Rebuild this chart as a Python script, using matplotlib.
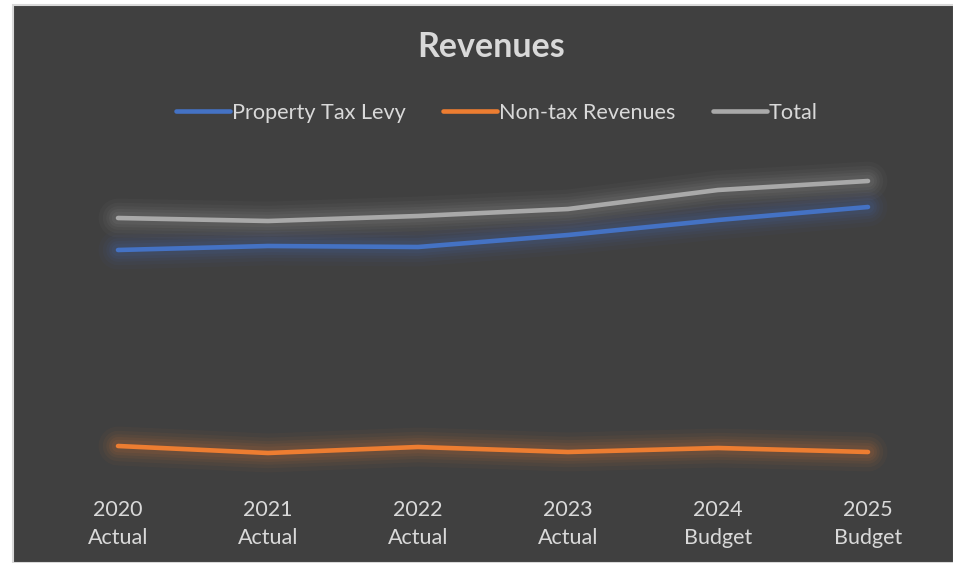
#! /usr/bin/env python3

import numpy as np
import matplotlib
matplotlib.use('Agg')
import matplotlib.pyplot as plt
from matplotlib.patches import Rectangle

# Data (millions)
years = ['2020\nActual', '2021\nActual', '2022\nActual', '2023\nActual', '2024\nBudget', '2025\nBudget']
property_tax = [22.8, 23.2, 23.1, 24.3, 25.8, 27.1]
non_tax = [3.2, 2.5, 3.1, 2.6, 3.0, 2.6]
total = [26.0, 25.7, 26.2, 26.9, 28.8, 29.7]

bg = '#404040'
txt = '#d9d9d9'
font = 'Lato'

plt.rcParams['font.family'] = [font, 'DejaVu Sans']

W, H = 954, 563
fig = plt.figure(figsize=(W/100, H/100), dpi=100)
fig.patch.set_facecolor('white')

# chart area
fig.patches.append(Rectangle((13/W, 0), 1 - 13/W, 1 - 5/H, transform=fig.transFigure,
                             facecolor=bg, edgecolor='#d9d9d9', linewidth=1.5, zorder=0))

ax = fig.add_axes([43/W, (H-478)/H, 900/W, 350/H])
ax.set_zorder(2)
ax.set_facecolor('none')
for s in ax.spines.values():
    s.set_visible(False)

x = np.arange(len(years))

series = [
    (property_tax, '#4472c4', 'Property Tax Levy'),
    (non_tax, '#ed7d31', 'Non-tax Revenues'),
    (total, '#a9a9a9', 'Total'),
]

# soft glow underneath
for vals, col, lab in series:
    for lw, a in [(28, 0.04), (22, 0.05), (17, 0.06), (13, 0.07), (9, 0.08)]:
        ax.plot(x, vals, color=col, linewidth=lw, alpha=a, solid_capstyle='round',
                solid_joinstyle='round', zorder=2)

lines = []
for vals, col, lab in series:
    l, = ax.plot(x, vals, color=col, linewidth=3.3, solid_capstyle='round',
                 solid_joinstyle='round', label=lab, zorder=3)
    lines.append(l)

ax.set_xlim(-0.5, len(years) - 0.5)
ax.set_ylim(0, 35)
ax.set_yticks([])
ax.set_xticks(x)
ax.set_xticklabels(years, color=txt, fontsize=15.5, linespacing=1.55)
ax.tick_params(axis='x', length=0, pad=15.5)

fig.text(491/W, 1 - 47/H, 'Revenues', ha='center', va='center', color=txt,
         fontsize=24.5, fontweight='bold')

leg = fig.legend(handles=lines, loc='center', bbox_to_anchor=(497/W, 1 - 113/H),
                 ncol=3, frameon=False, fontsize=15.6, handlelength=2.5,
                 handletextpad=0.1, columnspacing=1.7)
leg.set_zorder(3)
for t in leg.get_texts():
    t.set_color(txt)

fig.savefig('out.png', dpi=100, facecolor=fig.get_facecolor())
